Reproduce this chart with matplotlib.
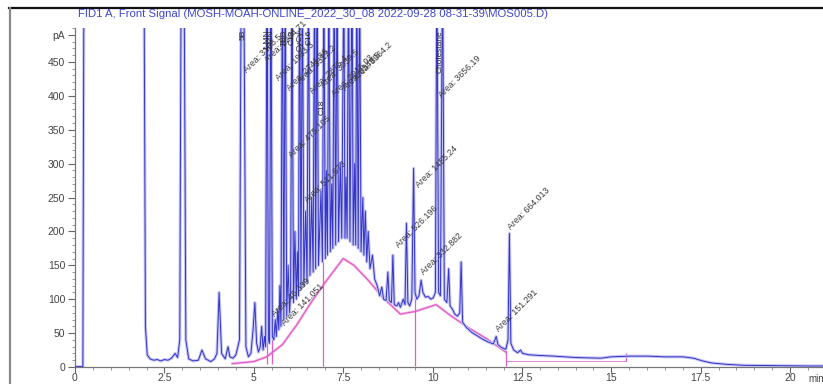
import matplotlib
matplotlib.use("Agg")
import matplotlib.pyplot as plt
from matplotlib.lines import Line2D
from matplotlib.ticker import MultipleLocator

plt.rcParams['font.family'] = ['Liberation Sans', 'DejaVu Sans']

# FID trace: (retention time [min], signal [pA]); 600 = off scale
signal_pts = [
    (0.00, 0.5), (0.22, 0.5), (0.25, 600), (1.93, 600), (1.97, 60), (2.02, 18),
    (2.10, 12), (2.20, 10), (2.30, 11), (2.40, 9), (2.50, 11), (2.60, 10), (2.70, 13),
    (2.80, 20), (2.87, 14), (2.93, 40), (2.97, 600), (3.05, 600), (3.10, 40), (3.18, 12),
    (3.30, 9), (3.45, 10), (3.55, 25), (3.65, 12), (3.80, 8), (3.90, 12), (3.97, 20),
    (4.03, 110), (4.10, 20), (4.20, 12), (4.28, 30), (4.33, 15), (4.42, 13), (4.50, 18),
    (4.60, 40), (4.65, 600), (4.72, 600), (4.78, 30), (4.85, 15), (4.92, 20), (4.98, 55),
    (5.03, 95), (5.08, 35), (5.13, 22), (5.18, 30), (5.22, 60), (5.26, 25), (5.30, 45),
    (5.33, 30), (5.37, 600), (5.41, 40), (5.44, 35), (5.48, 600), (5.52, 45), (5.56, 40),
    (5.60, 70), (5.63, 45), (5.67, 85), (5.70, 55), (5.73, 120), (5.76, 60), (5.80, 600),
    (5.84, 70), (5.88, 600), (5.92, 75), (5.96, 150), (6.00, 80), (6.03, 110), (6.07, 600),
    (6.11, 95), (6.15, 200), (6.19, 100), (6.22, 170), (6.25, 105), (6.28, 600), (6.32, 115),
    (6.36, 600), (6.40, 120), (6.45, 230), (6.49, 125), (6.53, 600), (6.57, 135), (6.62, 250),
    (6.66, 140), (6.70, 600), (6.73, 145), (6.77, 600), (6.81, 150), (6.88, 260), (6.92, 155),
    (6.96, 600), (7.00, 160), (7.03, 290), (7.06, 165), (7.10, 600), (7.14, 170), (7.18, 270),
    (7.21, 175), (7.25, 600), (7.29, 180), (7.33, 600), (7.37, 185), (7.42, 300), (7.46, 190),
    (7.52, 600), (7.55, 190), (7.58, 280), (7.61, 190), (7.65, 600), (7.69, 185), (7.75, 600),
    (7.78, 180), (7.82, 300), (7.85, 180), (7.88, 600), (7.92, 175), (7.96, 600), (8.00, 170),
    (8.05, 250), (8.08, 165), (8.12, 230), (8.16, 155), (8.20, 200), (8.25, 145), (8.32, 165),
    (8.38, 130), (8.45, 120), (8.52, 105), (8.58, 118), (8.63, 100), (8.70, 98), (8.75, 140),
    (8.79, 98), (8.85, 95), (8.89, 165), (8.93, 92), (9.00, 90), (9.05, 95), (9.10, 88),
    (9.18, 100), (9.23, 92), (9.27, 212), (9.31, 95), (9.36, 90), (9.42, 100), (9.47, 293),
    (9.51, 110), (9.56, 100), (9.62, 105), (9.68, 128), (9.73, 110), (9.80, 103), (9.88, 104),
    (9.95, 100), (10.02, 102), (10.08, 110), (10.12, 600), (10.17, 110), (10.22, 105),
    (10.28, 600), (10.33, 100), (10.40, 95), (10.45, 145), (10.49, 90), (10.56, 85),
    (10.62, 78), (10.70, 75), (10.76, 80), (10.80, 155), (10.84, 66), (10.95, 58), (11.10, 51),
    (11.25, 46), (11.40, 41), (11.55, 37), (11.70, 34), (11.78, 45), (11.83, 33), (11.92, 29),
    (12.05, 26), (12.11, 40), (12.15, 197), (12.19, 35), (12.27, 25), (12.38, 21), (12.46, 25),
    (12.52, 20), (12.70, 18), (13.00, 17), (13.40, 16), (14.00, 14), (14.70, 13), (15.00, 15),
    (15.50, 16), (16.00, 16), (16.50, 15), (17.00, 15), (17.30, 13), (17.55, 9), (17.80, 6),
    (18.20, 4), (18.70, 2.5), (19.50, 2), (20.50, 1.5), (20.92, 1.5),
]

# integration baseline (pink)
baseline_pts = [
    (4.40, 5), (5.00, 8), (5.36, 15), (5.80, 33), (6.20, 62), (6.60, 95), (7.00, 125),
    (7.50, 160), (7.80, 150), (8.20, 128), (8.60, 103), (9.10, 78), (9.52, 82), (10.10, 92),
    (10.50, 76), (11.00, 58), (11.50, 42), (12.05, 22),
]
flat_base_t = [12.05, 15.40]
flat_base_v = [9, 9]

# drop lines: time, low, high
drop_t = [5.36, 5.50, 6.93, 9.52, 12.05, 15.40]
drop_lo = [4, 4, 1, 1, 2, 9]
drop_hi = [220, 220, 400, 150, 24, 20]

# area annotations: start time, start signal, text
area_t = [10.29, 9.65, 9.09, 9.79, 12.22, 11.89, 6.10, 6.55, 5.62, 5.90,
          4.84, 5.45, 5.75, 6.05, 6.35, 6.70, 7.00, 7.30, 7.62, 7.92]
area_v = [394, 262, 174, 134, 200, 49, 306, 240, 72, 58,
          432, 446, 420, 405, 415, 400, 410, 396, 405, 420]
area_text = ["Area: 3656.19", "Area: 1455.24", "Area: 526.196", "Area: 332.882",
             "Area: 664.013", "Area: 151.291", "Area: 475.105", "Area: 511.673",
             "Area: 46.339", "Area: 141.051",
             "Area: 3188.5", "Area: 2264.71", "Area: 1983.3", "Area: 2741.86",
             "Area: 3312.2", "Area: 2875.4", "Area: 3059.5", "Area: 2916.03",
             "Area: 3349.5", "Area: 8964.2"]

# peak names (vertical)
name_t = [4.69, 5.37, 5.48, 5.85, 6.07, 6.30, 6.55, 6.92, 10.22]
name_v = [497, 497, 497, 497, 497, 497, 497, 395, 497]
name_text = ["5B", "1-MN", "2-MN", "TBB", "C13", "CyCy", "C16", "C18", "Cholestane"]

title = r"FID1 A, Front Signal (MOSH-MOAH-ONLINE_2022_30_08 2022-09-28 08-31-39\MOS005.D)"

fig = plt.figure(figsize=(8.23, 3.84), dpi=100)
ax = fig.add_axes([75 / 823, 17 / 384, 748 / 823, 339 / 384])

t = [p[0] for p in signal_pts]
v = [p[1] for p in signal_pts]
ax.plot(t, v, color='#c4c4f2', lw=2.2, zorder=2)
ax.plot(t, v, color='#3535c8', lw=0.7, zorder=3)

bt = [p[0] for p in baseline_pts]
bv = [p[1] for p in baseline_pts]
ax.plot(bt, bv, color='#f2a6e0', lw=1.8, zorder=1)
ax.plot(bt, bv, color='#d94fc2', lw=0.6, zorder=1.5)
ax.plot(flat_base_t, flat_base_v, color='#e070cc', lw=0.6, zorder=1.5)
ax.vlines(drop_t, drop_lo, drop_hi, color='#e060c8', lw=0.9, zorder=1.5)

for x, y, s in zip(area_t, area_v, area_text):
    ax.text(x, y, s, rotation=45, rotation_mode='anchor', ha='left', va='bottom',
            fontsize=6.3, color='#3a3a3a', zorder=4)
for x, y, s in zip(name_t, name_v, name_text):
    ax.text(x, y, s, rotation=90, ha='center', va='top', fontsize=6,
            color='#2a2a2a', zorder=4)

ax.set_xlim(0, 20.92)
ax.set_ylim(0, 500)
ax.set_xticks([0, 2.5, 5, 7.5, 10, 12.5, 15, 17.5, 20])
ax.set_xticklabels(["0", "2.5", "5", "7.5", "10", "12.5", "15", "17.5", "20"])
ax.xaxis.set_minor_locator(MultipleLocator(0.5))
ax.set_yticks([0, 50, 100, 150, 200, 250, 300, 350, 400, 450, 490])
ax.set_yticklabels(["0", "50", "100", "150", "200", "250", "300", "350", "400", "450", "pA"])
ax.yaxis.set_minor_locator(MultipleLocator(10))
ax.tick_params(axis='both', which='major', length=5, width=0.8, color='#666',
               labelsize=7.5, labelcolor='#444', pad=2)
ax.tick_params(axis='x', which='major', length=4, pad=0.5)
ax.tick_params(axis='both', which='minor', length=2.5, width=0.6, color='#888')
for side in ('top', 'right'):
    ax.spines[side].set_visible(False)
for side in ('left', 'bottom'):
    ax.spines[side].set_color('#777')
    ax.spines[side].set_linewidth(0.9)
ax.text(20.5, -0.02, "min", transform=ax.get_xaxis_transform(), ha='left', va='top',
        fontsize=7, color='#444')

fig.text(78 / 823, 1 - 14 / 384, title, ha='left', va='center', fontsize=8.2, color='#4046cc')

# window frame
fig.add_artist(Line2D([9 / 823, 1], [1 - 8 / 384, 1 - 8 / 384], color='#111', lw=1.6))
fig.add_artist(Line2D([10 / 823, 10 / 823], [0, 1 - 8 / 384], color='#888', lw=1.6))

fig.savefig("out.png", dpi=100)
